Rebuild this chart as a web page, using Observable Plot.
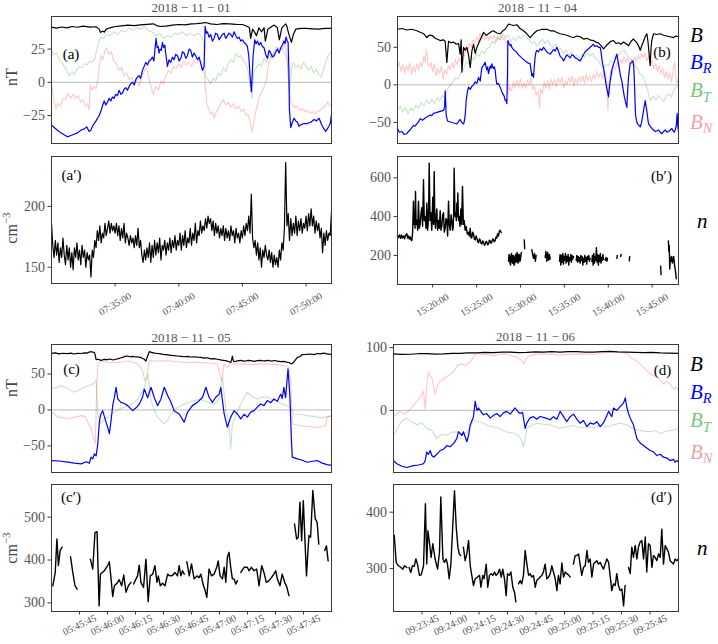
<!DOCTYPE html>
<html><head><meta charset="utf-8">
<script src="https://cdn.jsdelivr.net/npm/d3@7"></script>
<script src="https://cdn.jsdelivr.net/npm/@observablehq/plot@0.6"></script>
<style>
body{margin:0;background:#fff;}
#root{position:relative;width:718px;height:644px;overflow:hidden;background:#fff;}
.pw{position:absolute;}
.pw svg{overflow:visible;background:transparent;}
#ov{position:absolute;left:0;top:0;pointer-events:none;}
</style></head><body><div id="root"></div>
<script>
// ---------------- DATA ----------------
// Panel (a) 2018-11-01, time in minutes after 07:30:00
const aStart = "2018-11-01T07:30:00Z";
const aB = [[0,41.5],[0.4,40.8],[0.8,41.6],[1.2,41],[1.6,42],[2,41.4],[2.5,42.2],[3,41.5],[3.5,41.8],[3.75,40],[3.85,37.5],[4.0,38.5],[4.15,37.8],[4.3,40],[4.6,41],[5,42],[5.5,42.5],[6,43],[6.5,42.6],[7,43.2],[7.5,43.6],[8,44],[8.3,42.5],[8.6,42],[9,42.2],[9.5,43],[10,43.5],[10.5,43.2],[11,44],[11.4,44.2],[11.8,44.5],[12.1,45],[12.5,44],[13,43.5],[13.5,44.2],[14,44],[14.5,43.6],[15,43.5],[15.4,42],[15.55,41],[15.65,33],[15.8,40],[16,37],[16.1,35],[16.3,41],[16.5,38],[16.7,41],[16.8,31],[17,40],[17.3,42],[17.5,43],[17.75,41],[17.9,32],[18.1,41],[18.4,44],[18.5,42],[18.6,38],[18.75,33],[18.85,30],[19,36],[19.2,40],[19.6,40.6],[20,40.5],[20.5,40.2],[21,40],[21.5,40.6],[22,40.5]];
const aBR = [[0,-32],[0.21,-34],[0.47,-36],[0.73,-38],[0.99,-39.5],[1.26,-41],[1.52,-40],[1.78,-39],[2.04,-38],[2.3,-36],[2.57,-35],[2.77,-33.5],[2.96,-37],[3.09,-36],[3.22,-33],[3.35,-31],[3.5,-29],[3.61,-27],[3.75,-25],[3.87,-22],[4.0,-18],[4.14,-14],[4.27,-17],[4.4,-15],[4.53,-12],[4.66,-14],[4.79,-11],[4.92,-12],[5.05,-9],[5.18,-10],[5.31,-6],[5.45,-9],[5.58,-8],[5.71,-5],[5.84,-4],[5.97,-6],[6.1,-3],[6.23,-1],[6.36,0],[6.5,-2],[6.62,2],[6.75,4],[6.88,5],[7.0,3],[7.15,9],[7.28,12],[7.41,15],[7.54,13],[7.67,16],[7.8,17],[7.93,19],[8.05,16],[8.12,24],[8.22,33],[8.3,26],[8.38,27],[8.45,22],[8.53,25],[8.62,24],[8.72,30],[8.8,26],[8.9,28],[9.0,20],[9.11,12],[9.24,17],[9.37,15],[9.5,19],[9.63,17],[9.76,21],[9.9,20],[10.03,16],[10.16,18],[10.29,23],[10.42,22],[10.55,18],[10.68,20],[10.81,25],[10.94,24],[11.07,19],[11.2,22],[11.33,20],[11.47,17],[11.6,19],[11.73,14],[11.86,9],[11.99,12],[12.07,42],[12.16,37],[12.25,38],[12.38,34],[12.51,36],[12.64,31],[12.77,33],[12.9,37],[13.04,36],[13.17,32],[13.3,34],[13.43,36],[13.56,37],[13.69,33],[13.82,35],[13.95,37],[14.08,36],[14.21,34],[14.35,38],[14.48,35],[14.61,33],[14.74,34],[14.87,31],[15.0,32],[15.13,30],[15.26,29],[15.39,27],[15.5,20],[15.6,5],[15.71,-7],[15.78,8],[15.84,20],[15.97,32],[16.08,29],[16.18,31],[16.31,28],[16.44,30],[16.57,27],[16.7,26],[16.83,21],[16.96,18],[17.1,24],[17.23,22],[17.36,19],[17.49,20],[17.62,23],[17.75,25],[17.88,22],[18.01,26],[18.14,28],[18.27,31],[18.35,29],[18.43,34],[18.52,31],[18.59,30],[18.65,10],[18.69,-20],[18.8,-34],[18.93,-30],[19.06,-27],[19.19,-29],[19.32,-30],[19.45,-33],[19.58,-32],[19.84,-31],[20.1,-31],[20.37,-30],[20.63,-28],[20.82,-29],[21.02,-27],[21.15,-30],[21.28,-33],[21.41,-35],[21.54,-37],[21.67,-35],[21.8,-33],[21.9,-31],[22,-24]];
const aBT = [[0,24],[0.2,21],[0.4,22],[0.6,17],[0.8,15],[1.0,12],[1.2,9],[1.4,5],[1.6,8],[1.8,6],[2.0,10],[2.2,12],[2.4,11],[2.6,14],[2.8,13],[3.0,16],[3.2,15],[3.4,18],[3.55,24],[3.7,30],[3.9,34],[4.1,33],[4.3,36],[4.6,35],[4.9,38],[5.2,36],[5.5,39],[5.8,38],[6.1,41],[6.4,39],[6.7,41],[7.0,40],[7.3,42],[7.6,39],[7.9,38],[8.2,35],[8.5,37],[8.8,33],[9.1,35],[9.4,34],[9.7,37],[10.0,36],[10.3,38],[10.6,35],[10.9,37],[11.2,35],[11.5,37],[11.8,34],[11.95,30],[12.1,5],[12.3,2],[12.5,-1],[12.7,3],[12.9,1],[13.1,7],[13.3,5],[13.5,11],[13.7,8],[13.9,14],[14.1,17],[14.3,15],[14.5,22],[14.7,19],[14.9,20],[15.1,16],[15.3,14],[15.45,8],[15.6,-2],[15.75,-12],[15.9,8],[16.1,11],[16.3,14],[16.5,12],[16.7,18],[16.9,15],[17.1,21],[17.3,18],[17.5,24],[17.7,27],[17.9,23],[18.1,26],[18.3,22],[18.5,18],[18.6,5],[18.7,-8],[18.85,10],[19.0,15],[19.2,11],[19.4,13],[19.6,10],[19.8,15],[20.0,12],[20.2,9],[20.4,12],[20.6,7],[20.8,10],[21.0,6],[21.2,4],[21.35,9],[21.5,14],[21.65,18],[21.8,21],[22,23]];
const aBN = [[0,-1],[0.1,-8],[0.2,-14],[0.35,-20],[0.5,-16],[0.7,-18],[0.9,-12],[1.1,-13],[1.3,-8],[1.5,-12],[1.7,-9],[1.9,-12],[2.1,-10],[2.3,-15],[2.5,-13],[2.7,-18],[2.85,-16],[2.95,-21],[3.05,-2],[3.2,-6],[3.35,-3],[3.5,-5],[3.65,2],[3.75,12],[3.9,20],[4.05,17],[4.2,24],[4.35,26],[4.5,21],[4.7,23],[4.9,16],[5.1,14],[5.3,9],[5.5,11],[5.7,5],[5.9,7],[6.1,2],[6.3,4],[6.5,-1],[6.7,2],[6.9,-3],[7.05,3],[7.2,6],[7.4,11],[7.55,8],[7.7,1],[7.85,-4],[8.0,-9],[8.2,-3],[8.4,-6],[8.6,1],[8.8,-1],[9.0,5],[9.2,9],[9.4,7],[9.6,12],[9.8,10],[10.0,14],[10.2,11],[10.4,16],[10.6,13],[10.8,15],[11.0,12],[11.2,16],[11.4,14],[11.6,17],[11.8,13],[12.0,8],[12.1,-5],[12.2,-16],[12.35,-20],[12.5,-24],[12.65,-22],[12.8,-27],[12.95,-22],[13.1,-20],[13.3,-16],[13.5,-13],[13.7,-17],[13.9,-15],[14.1,-19],[14.3,-16],[14.5,-20],[14.7,-18],[14.9,-22],[15.1,-20],[15.3,-25],[15.45,-24],[15.6,-30],[15.75,-37],[15.9,-30],[16.0,-24],[16.15,-18],[16.3,-12],[16.45,-8],[16.6,-6],[16.75,-2],[16.9,2],[17.0,10],[17.1,16],[17.3,20],[17.5,22],[17.7,24],[17.9,26],[18.1,25],[18.3,28],[18.45,25],[18.55,14],[18.65,-2],[18.8,-15],[18.95,-17],[19.1,-19],[19.3,-18],[19.5,-21],[19.7,-20],[19.9,-22],[20.1,-21],[20.3,-23],[20.5,-22],[20.7,-24],[20.9,-22],[21.1,-21],[21.3,-19],[21.5,-18],[21.7,-15],[21.85,-17],[22,-18]];
// Panel (a') density, cm^-3, one value every 0.1 min from 07:30:00
const aNstep = 0.1;
const aN = [186,168,158,172,160,170,154,166,158,174,160,152,168,156,166,150,162,148,166,158,170,156,164,152,168,158,164,150,162,156,160,142,164,158,172,166,180,172,184,170,178,174,186,176,182,188,178,186,180,184,178,186,176,184,172,182,174,186,170,178,174,168,176,170,174,166,176,168,182,166,172,160,154,164,156,166,158,170,154,168,158,172,160,170,162,174,156,168,164,172,160,170,164,174,162,172,166,176,164,172,168,178,164,176,168,180,166,174,170,182,168,178,172,186,170,180,176,188,178,184,180,190,182,192,186,190,180,188,176,186,178,184,174,182,176,184,172,182,174,180,172,184,176,180,170,182,174,178,170,180,174,184,176,186,180,192,178,210,174,166,172,160,170,156,166,150,164,158,168,160,156,164,154,162,150,160,152,158,150,164,156,170,164,182,236,184,194,172,190,176,186,178,192,176,188,180,190,178,186,182,192,180,194,184,198,184,192,178,188,180,186,174,182,162,178,168,180,172,178,176,196];

// Panel (b) 2018-11-04, minutes after 15:16:00
const bStart = "2018-11-04T15:16:00Z";
const bB = [[0,74],[0.5,75],[1.06,73],[1.6,74],[2.2,72],[2.58,70],[3.0,68],[3.34,63],[3.6,66],[3.91,66],[4.3,62],[4.86,59],[5.2,60],[5.43,58],[5.62,30],[5.81,58],[6.1,56],[6.38,57],[6.7,54],[6.95,55],[7.14,41],[7.25,60],[7.33,17],[7.52,50],[7.7,46],[7.9,50],[8.09,40],[8.28,23],[8.47,45],[8.66,54],[8.85,42],[9.04,50],[9.42,60],[9.8,70],[10.1,66],[10.36,68],[10.7,71],[10.93,72],[11.3,69],[11.69,68],[12.0,72],[12.26,74],[12.64,81],[12.9,80],[13.21,79],[13.59,80],[13.97,75],[14.35,72],[14.73,68],[15.11,63],[15.49,68],[15.87,72],[16.2,73],[16.44,74],[17.01,74],[17.4,72],[17.77,72],[18.1,70],[18.53,68],[18.9,67],[19.29,66],[19.7,64],[20.05,63],[20.43,65],[20.8,64],[21.2,61],[21.56,62],[21.9,60],[22.32,59],[22.6,57],[22.89,56],[23.2,52],[23.46,48],[23.76,52],[24.03,55],[24.3,58],[24.6,59],[24.9,55],[25.17,56],[25.45,54],[25.74,57],[26.0,55],[26.31,52],[26.6,58],[26.88,61],[27.1,58],[27.26,56],[27.45,52],[27.64,46],[27.82,52],[28.02,58],[28.2,64],[28.4,68],[28.52,58],[28.63,44],[28.72,32],[28.78,26],[28.88,50],[28.97,60],[29.16,68],[29.5,67],[29.92,68],[30.3,66],[30.68,65],[31.05,64],[31.43,63],[31.7,65],[32,64]];
const bBR = [[0,-58],[0.2,-63],[0.49,-62],[0.75,-66],[1.06,-65],[1.25,-62],[1.44,-60],[1.62,-57],[1.82,-54],[2.0,-55],[2.2,-52],[2.4,-49],[2.58,-45],[2.85,-47],[3.15,-44],[3.45,-42],[3.72,-40],[3.9,-41],[4.1,-38],[4.4,-37],[4.67,-36],[4.95,-35],[5.24,-34],[5.36,-30],[5.43,-8],[5.5,-25],[5.54,-40],[5.69,-48],[5.95,-49],[6.19,-50],[6.5,-51],[6.76,-52],[6.95,-49],[7.14,-46],[7.32,-50],[7.52,-52],[7.62,-48],[7.71,-40],[7.82,-21],[7.95,-10],[8.09,-3],[8.28,-6],[8.47,-2],[8.66,0],[8.85,4],[9.04,2],[9.23,10],[9.42,5],[9.52,15],[9.61,23],[9.8,26],[9.98,30],[10.08,24],[10.17,20],[10.27,24],[10.36,15],[10.46,20],[10.55,25],[10.65,22],[10.74,28],[10.84,24],[10.93,22],[11.02,24],[11.12,20],[11.22,8],[11.31,1],[11.5,2],[11.69,-3],[11.85,-8],[12.0,-12],[12.15,-15],[12.26,-21],[12.36,-20],[12.45,-25],[12.52,10],[12.57,59],[12.7,55],[12.83,52],[12.92,54],[13.02,50],[13.15,48],[13.29,46],[13.45,45],[13.59,43],[13.78,40],[13.97,38],[14.15,36],[14.35,34],[14.55,32],[14.73,30],[14.9,29],[15.11,28],[15.2,20],[15.3,12],[15.4,15],[15.49,10],[15.58,25],[15.68,38],[15.78,44],[15.87,46],[16.05,44],[16.25,48],[16.45,46],[16.63,50],[16.82,47],[17.01,44],[17.2,42],[17.39,41],[17.58,44],[17.77,47],[17.96,45],[18.15,50],[18.35,44],[18.53,38],[18.72,36],[18.91,32],[19.1,36],[19.29,40],[19.48,38],[19.67,36],[19.86,40],[20.05,39],[20.24,36],[20.43,35],[20.62,33],[20.8,32],[21.0,36],[21.18,40],[21.37,44],[21.56,46],[21.75,48],[21.94,50],[22.13,52],[22.32,54],[22.5,51],[22.7,52],[22.9,50],[23.08,50],[23.18,44],[23.27,35],[23.36,28],[23.46,23],[23.6,12],[23.76,0],[23.9,-8],[24.03,-16],[24.12,-5],[24.22,5],[24.32,12],[24.41,20],[24.55,26],[24.68,30],[24.83,36],[24.98,41],[25.1,32],[25.28,20],[25.4,12],[25.55,5],[25.68,-5],[25.82,-15],[25.95,-22],[26.12,-30],[26.2,-10],[26.31,10],[26.4,20],[26.5,28],[26.65,30],[26.81,32],[26.9,25],[26.96,10],[27.03,-15],[27.11,-40],[27.22,-48],[27.34,-52],[27.5,-54],[27.64,-56],[27.8,-50],[27.94,-40],[28.08,-30],[28.21,-21],[28.3,-28],[28.4,-35],[28.5,-45],[28.59,-52],[28.78,-55],[28.97,-58],[29.16,-60],[29.35,-62],[29.55,-61],[29.73,-60],[29.92,-63],[30.11,-65],[30.3,-62],[30.49,-60],[30.68,-63],[30.87,-62],[31.05,-60],[31.24,-58],[31.38,-61],[31.51,-63],[31.62,-60],[31.74,-55],[31.8,-45],[31.85,-38],[31.92,-55],[32,-62]];
const bBT = [[0,-34],[0.3,-28],[0.6,-36],[0.9,-30],[1.2,-38],[1.5,-31],[1.8,-34],[2.1,-27],[2.4,-31],[2.7,-24],[3.0,-28],[3.3,-20],[3.6,-25],[3.9,-19],[4.2,-25],[4.5,-17],[4.8,-21],[5.1,-14],[5.4,-17],[5.7,-6],[6.0,0],[6.3,4],[6.6,10],[6.9,8],[7.2,16],[7.5,20],[7.8,30],[8.1,28],[8.4,37],[8.7,33],[9.0,42],[9.3,38],[9.6,45],[9.9,42],[10.2,48],[10.5,50],[10.8,58],[11.1,55],[11.4,63],[11.7,60],[12.0,68],[12.3,64],[12.6,66],[12.9,58],[13.2,63],[13.5,59],[13.8,65],[14.1,61],[14.4,67],[14.7,63],[15.0,60],[15.3,55],[15.6,58],[15.9,51],[16.2,57],[16.5,61],[16.8,55],[17.1,60],[17.4,53],[17.7,50],[18.0,54],[18.3,46],[18.6,49],[18.9,42],[19.2,46],[19.5,40],[19.8,44],[20.1,36],[20.4,40],[20.7,35],[21.0,41],[21.3,37],[21.6,43],[21.9,38],[22.2,42],[22.5,36],[22.8,33],[23.1,28],[23.4,22],[23.7,27],[24.0,25],[24.3,32],[24.6,29],[24.9,36],[25.2,40],[25.5,44],[25.8,47],[26.1,40],[26.4,36],[26.7,32],[27.0,27],[27.3,22],[27.6,15],[27.9,12],[28.2,4],[28.5,-8],[28.8,-21],[29.1,-15],[29.4,-20],[29.7,-14],[30.0,-18],[30.3,-22],[30.6,-15],[30.9,-12],[31.2,-16],[31.5,-6],[31.8,-2],[32,1]];
const bBN = [[0,23],[0.2,30],[0.4,18],[0.6,27],[0.8,15],[1.0,26],[1.2,19],[1.4,29],[1.6,14],[1.8,25],[2.0,17],[2.2,28],[2.4,20],[2.6,30],[2.8,24],[3.0,38],[3.15,30],[3.3,47],[3.45,28],[3.6,24],[3.8,30],[4.0,18],[4.2,28],[4.4,12],[4.6,22],[4.8,15],[5.0,25],[5.2,8],[5.4,20],[5.6,14],[5.8,26],[6.0,20],[6.2,30],[6.4,22],[6.6,34],[6.8,27],[7.0,36],[7.2,30],[7.4,44],[7.6,38],[7.8,50],[8.0,44],[8.2,56],[8.4,50],[8.6,60],[8.8,55],[9.0,64],[9.2,58],[9.4,69],[9.6,62],[9.8,67],[10.0,60],[10.2,66],[10.4,59],[10.6,65],[10.8,61],[11.0,66],[11.2,58],[11.4,64],[11.6,60],[11.8,66],[12.0,60],[12.2,63],[12.45,55],[12.55,30],[12.64,-12],[12.8,-2],[13.0,-8],[13.2,5],[13.4,-4],[13.6,6],[13.8,-3],[14.0,8],[14.2,-5],[14.4,3],[14.6,-4],[14.8,6],[15.0,0],[15.2,9],[15.4,-6],[15.6,-2],[15.8,-14],[16.0,-8],[16.17,-30],[16.3,-5],[16.5,-12],[16.7,4],[16.9,-4],[17.1,6],[17.3,-6],[17.5,8],[17.7,0],[17.9,7],[18.1,-3],[18.3,9],[18.5,2],[18.7,10],[18.9,-4],[19.1,5],[19.3,0],[19.5,10],[19.7,3],[19.9,12],[20.1,-2],[20.3,8],[20.5,2],[20.7,11],[20.9,4],[21.1,12],[21.3,2],[21.5,14],[21.7,6],[21.9,12],[22.1,4],[22.3,14],[22.5,8],[22.7,18],[22.9,10],[23.1,16],[23.3,9],[23.5,20],[23.7,14],[23.85,0],[23.96,-34],[24.1,5],[24.25,18],[24.4,12],[24.6,26],[24.8,20],[25.0,30],[25.2,24],[25.4,34],[25.6,28],[25.8,38],[26.0,30],[26.2,36],[26.4,28],[26.6,34],[26.8,30],[27.0,37],[27.2,32],[27.4,40],[27.6,34],[27.8,42],[28.0,36],[28.2,42],[28.4,32],[28.6,38],[28.8,26],[29.0,32],[29.2,22],[29.4,28],[29.6,18],[29.8,26],[30.0,15],[30.2,22],[30.4,10],[30.6,18],[30.8,8],[31.0,16],[31.2,4],[31.4,20],[31.55,30],[31.7,10],[31.85,2],[32,8]];
// Panel (b') density, minutes after 15:16:00 (null = no data)
const bN = [[0,302],[0.12,292],[0.23,306],[0.35,288],[0.46,305],[0.57,290],[0.68,300],[0.8,286],[0.91,304],[1.06,312],[1.15,290],[1.25,300],[1.35,284],[1.44,296],[1.54,282],[1.63,276],[1.72,320],[1.82,480],[1.9,360],[1.94,420],[2.0,340],[2.05,530],[2.12,360],[2.2,380],[2.3,330],[2.39,480],[2.48,340],[2.58,360],[2.68,420],[2.77,446],[2.86,350],[2.96,590],[3.05,380],[3.15,400],[3.25,340],[3.34,470],[3.42,330],[3.49,360],[3.55,450],[3.61,675],[3.7,380],[3.8,420],[3.9,330],[4.02,500],[4.1,360],[4.18,632],[4.25,380],[4.33,340],[4.4,400],[4.48,440],[4.57,330],[4.67,380],[4.76,340],[4.86,430],[4.95,330],[5.05,350],[5.14,410],[5.24,420],[5.33,320],[5.43,340],[5.52,390],[5.62,380],[5.71,300],[5.81,480],[5.9,360],[6.0,330],[6.1,410],[6.19,380],[6.27,330],[6.34,340],[6.4,430],[6.45,650],[6.55,400],[6.64,420],[6.7,380],[6.76,470],[6.82,400],[6.87,522],[6.95,380],[7.02,400],[7.12,350],[7.21,440],[7.3,360],[7.4,556],[7.5,360],[7.59,380],[7.7,330],[7.82,350],[7.95,310],[8.09,320],[8.18,300],[8.28,340],[8.38,290],[8.47,293],[8.56,320],[8.66,310],[8.75,285],[8.85,280],[8.95,300],[9.04,290],[9.14,270],[9.23,265],[9.33,285],[9.42,280],[9.52,262],[9.61,259],[9.7,275],[9.8,268],[9.9,252],[9.98,256],[10.08,272],[10.17,270],[10.27,255],[10.36,258],[10.46,278],[10.55,275],[10.65,262],[10.74,268],[10.84,285],[10.93,282],[11.02,270],[11.12,276],[11.22,295],[11.31,290],[11.4,312],[11.5,300],[11.6,325],[11.69,330],[11.81,318],
null,[12.64,170],[12.7,205],[12.76,200],[12.82,160],[12.87,150],[12.93,195],[12.98,210],[13.04,170],[13.1,160],[13.15,200],[13.21,195],[13.27,150],[13.33,155],[13.38,190],[13.44,205],[13.5,165],[13.55,170],[13.61,215],[13.67,210],[13.72,160],[13.78,165],[13.84,205],[13.9,200],[13.95,170],[14.01,180],[14.07,210],[14.12,215],
null,[14.44,280],[14.48,235],
null,[15.3,230],[15.4,200],[15.5,185],[15.6,210],[15.7,170],[15.79,200],
null,[16.82,190],[16.9,220],[17.0,170],[17.1,215],[17.2,175],[17.3,205],[17.39,180],
null,[18.45,170],[18.52,205],[18.6,150],[18.68,200],[18.75,165],[18.83,210],[18.9,155],[18.98,195],[19.05,175],[19.13,210],[19.2,160],[19.28,195],[19.35,170],[19.43,205],[19.5,150],[19.58,190],[19.65,175],[19.73,205],[19.8,165],[19.88,200],[19.95,180],[20.05,195],
null,[20.35,175],[20.42,200],[20.5,165],[20.58,195],[20.65,170],[20.73,190],[20.8,160],[20.88,200],[20.95,175],[21.03,195],[21.1,150],[21.18,185],[21.25,165],[21.33,200],[21.4,170],[21.48,190],[21.55,155],[21.63,195],[21.7,180],[21.78,200],[21.85,170],[21.94,185],
null,[22.13,170],[22.2,200],[22.28,150],[22.35,210],[22.43,160],[22.5,195],[22.58,175],[22.65,240],[22.73,165],[22.8,205],[22.88,150],[22.95,200],[23.03,170],[23.1,210],[23.18,160],[23.25,190],[23.33,175],[23.4,205],[23.46,180],
null,[23.65,175],[23.75,190],[23.85,170],[23.92,185],
null,[24.98,185],[25.03,200],
null,[25.42,195],[25.46,205],
null,[26.4,172],[26.44,195],
null,[29.97,145],[30.01,100],
null,[30.85,275],[30.9,220],[30.95,250],[31.0,130],[31.08,190],[31.15,170],[31.22,195],[31.3,160],[31.38,175],[31.45,195],[31.55,150],[31.65,120],[31.75,80]];

// Panel (c) 2018-11-05, seconds after 05:45:30
const cStart = "2018-11-05T05:45:30Z";
const cB = [[0,78.7],[2,79.3],[4,78],[6,78.8],[8.7,78.3],[10.5,79],[12,77.8],[14,78.6],[15.9,78.5],[17.5,79.4],[19,79],[20.2,80.5],[21.2,81],[22.2,80.2],[23.0,80],[23.5,75],[23.9,70],[25,70.5],[26.5,69],[28,70.2],[30.1,70],[31.5,70.8],[33,69.5],[34.2,70.5],[35.5,71],[36.8,72.2],[38.1,73],[39.4,74.5],[40.8,75],[42,74],[43.5,74.5],[44.8,73.6],[46.1,74],[47.0,73.2],[47.9,73],[48.7,71.5],[49.5,71],[50.0,69.5],[50.6,68],[51.5,75],[52.4,81],[53.6,80],[55.1,79],[56.8,78.5],[58.6,78],[59.8,77.2],[61,77],[62.5,76.5],[64.0,76],[65.7,75.5],[67.5,75],[69.3,74.6],[71.1,74],[73,74.6],[74.6,73.6],[76.4,74],[78.2,73.4],[80.0,73],[81.8,72],[83.5,72.5],[85.3,71],[87,71.4],[88.9,70.5],[90.5,69.6],[92,69],[93.2,68.5],[94.2,68],[95.1,67],[96.0,66],[96.5,70],[96.9,75],[97.3,69],[97.8,67],[99.6,68.2],[101.4,69],[103,67.8],[104,68],[105.4,69],[106.7,68.5],[108.5,67.6],[110.3,68.6],[112.1,69],[113.8,68],[115.6,69],[117,68.4],[118,68],[119.5,68.8],[121.0,68],[122.8,67.2],[124.5,67.6],[126,66.4],[127.2,66],[128.5,64],[129.2,65],[129.9,67],[130.8,70],[131.7,73],[133,74],[134.3,77],[136.5,77.2],[138.8,77.8],[140.6,77],[142.3,78.5],[144,78],[145.9,79],[147,78.3],[148,77.5],[149,77.8],[150,77]];
const cBR = [[0,-70.4],[4.3,-71],[8.7,-72.7],[12.3,-74],[15.9,-75],[18.5,-72],[20.3,-74],[21.2,-65.7],[22.1,-68],[23.0,-61],[23.9,-64],[24.8,-47],[25.7,-14.8],[26.5,-5.6],[27.4,-1],[28.3,-9],[29.2,-17],[30.1,-24],[31.0,-33],[31.9,-15],[32.8,6],[33.7,18],[34.6,31.5],[35.5,15.3],[37.2,10.6],[39.0,9],[40.8,6],[43.5,-1],[45.3,3],[47.0,8],[48.8,18],[49.7,29],[51.5,17],[53.3,31.5],[55.1,17],[56.8,6],[58.6,15],[60.4,31.5],[62.2,20],[64.0,10.6],[65.7,-1],[68.4,-5.6],[71.1,-17],[72.9,-3],[75.5,6],[78.2,10.6],[80.9,17.6],[82.7,31.5],[84.4,17.6],[86.2,10.6],[88.0,17.6],[89.8,22],[90.7,31.5],[92.5,-5.6],[94.2,-24],[96.0,-10],[97.8,-1],[99.6,-5.6],[101.4,-12.5],[103.2,-6],[104.9,-10],[106.7,-3],[108.5,-1],[110.3,4],[112.1,8.3],[113.8,6],[115.6,13],[117.4,10],[119.2,15.3],[121.0,12],[122.8,22],[123.6,16],[124.5,31.5],[125.4,17],[126.7,57],[127.7,20],[128.5,-40],[129.0,-65.7],[131.7,-68],[134.3,-70],[137.0,-72.7],[140.6,-71],[142.3,-70.4],[145.0,-74],[147.7,-76],[150,-77]];
const cBT = [[0,29],[2.5,31],[5.2,33.8],[8.7,30],[12.3,24.5],[15.0,28],[17.6,31.5],[20.3,34],[22.1,36],[23.9,40.7],[24.8,-5.6],[26.5,-19],[28.3,-12],[30.1,-10],[33.7,-3],[36.3,1],[39.0,3.7],[41.7,6],[44.4,10.6],[47.0,18],[49.7,31.5],[51.5,50],[53.3,13],[55.1,0],[56.8,-10],[60.4,-19],[62.2,-14],[64.0,-5.6],[66.7,2],[69.3,6],[72.9,10],[76.4,13],[80.0,15],[83.6,10.6],[87.1,8],[89.8,15],[91.6,45],[93.4,0],[95.1,-20],[96.0,-54],[96.9,-20],[98.7,-8],[101.4,8.3],[104.9,24.5],[107.6,18],[110.3,15],[113.0,18],[115.6,17.6],[118.3,14],[121.0,12],[123.6,8],[126.3,6],[128.1,3],[129.9,-5.6],[133.4,-6],[137.0,-7.9],[140.6,-9],[144.1,-11],[146.8,-10],[150,-8]];
const cBN = [[0,-3.2],[1.6,-6],[3.4,-10],[6.1,-11],[8.7,-12.5],[12.3,-10],[15.9,-7.9],[18.5,-10],[19.8,-19],[21.2,-26],[22.4,-38],[23.5,-47],[24.2,30],[24.8,64],[26.5,68.5],[30.1,66],[35.5,66],[40.8,68],[44.4,66],[47.0,62],[48.8,54.6],[50.0,40.7],[51.1,45],[52.4,68.5],[56.8,68],[62.2,68.5],[67.5,67],[71.1,66],[76.4,66.5],[80.0,66],[85.3,65],[88.9,64],[90.2,50],[91.1,40.7],[92.5,64],[94.2,59],[96.0,66],[97.8,64],[103.2,64],[106.7,63],[112.1,64],[115.6,64],[121.0,63],[124.5,61.6],[127.2,59],[128.1,40],[129.0,-19],[131.7,-21],[133.4,-21.8],[137.0,-23],[140.6,-24],[144.1,-24],[146.8,-22],[147.7,-10],[150,-8]];
// Panel (c') density, seconds after 05:45:30 (null = no data)
const cN = [[0.7,340],[2.0,371],[2.9,449],[3.7,387],[4.6,422],[5.7,430],null,
[10.2,408],[11.4,371],[12.6,340],[13.7,332],null,
[20.8,402],[22.1,379],[23.3,464],[24.4,466],[25.5,293],[26.2,367],[28.3,375],[30.1,387],[31.0,396],[31.9,356],[32.8,315],[33.7,340],[35.1,346],[36.3,354],[37.6,340],[38.7,365],[39.9,325],[41.2,340],[42.6,348],null,
[44.0,344],[45.3,356],[46.1,363],[47.0,388],[47.9,348],[49.3,336],[50.6,402],[51.8,303],[52.9,363],[54.2,367],[55.4,387],[56.5,348],[57.2,363],[58.3,340],[59.5,346],[60.8,340],[62.2,367],[63.4,363],[64.8,364],[66.1,371],[67.5,363],[68.4,387],[69.3,363],[70.2,375],[71.1,367],null,
[72.5,396],[73.8,363],[75.0,391],[76.4,356],[77.9,363],[79.1,359],[80.0,367],[81.4,340],[82.1,332],[83.2,313],[84.4,379],[85.7,363],[87.1,367],[88.5,383],[89.3,398],[90.3,363],[91.6,356],[92.5,383],[93.4,348],[94.2,406],[95.1,418],[96.0,383],[96.9,356],[97.8,356],[98.7,344],[99.6,352],null,
[101.4,371],[103.2,383],[104.9,383],[105.8,375],[107.1,383],[108.5,375],[109.9,379],[111.2,340],[112.6,387],[113.8,371],[115.1,348],[116.5,352],[117.8,359],[118.8,365],[120.1,375],[121.0,356],[122.4,340],[123.6,367],[124.9,348],[126.0,338],[127.2,317],null,
[130.2,484],[131.3,449],[132.2,453],[133.1,535],[134.0,445],[134.9,538],[135.8,444],[136.6,363],[137.9,457],[138.8,453],[140.0,562],[141.3,496],[142.3,488],[143.2,437],null,
[146.4,422],[147.3,433],[148.2,398]];

// Panel (d) 2018-11-06, seconds after 09:23:30
const dStart = "2018-11-06T09:23:30Z";
const dB = [[0,90],[4,89.2],[8.8,89.5],[13,90.3],[17.5,90.5],[22,89.6],[26.3,90],[31,90.8],[35.1,91],[39,91.8],[43.9,91.5],[48,92.3],[52.6,92],[57,92.8],[61.4,93],[66,92.2],[70.2,92.5],[75,93.2],[78.9,93],[83,93.6],[87.7,93],[92,93.8],[96.5,93.5],[101,92.8],[105.3,93],[110,93.6],[114,94],[118,93.2],[122.8,93],[127,92.4],[131.6,92],[136,92.6],[140.4,91.5],[145,91.2],[150,91]];
const dBR = [[0,-80],[1.8,-85],[4.4,-89],[7.0,-91],[10.5,-88],[13.2,-87],[15.8,-85],[16.7,-80],[17.5,-66.5],[18.4,-70],[19.3,-64],[20.2,-72],[21.1,-74.6],[22.8,-70],[24.6,-64],[26.3,-62],[28.1,-56],[29.8,-58],[31.6,-53],[33.3,-45],[34.2,-34],[36.0,-40],[36.8,-34],[38.6,-50],[39.5,-40],[40.4,-23],[42.1,-10],[43.0,14.6],[43.9,0],[44.7,3.8],[46.5,-4],[47.4,-7],[49.1,-5],[50.9,-12.4],[52.6,-8],[54.4,-5],[56.1,-10],[57.9,-4],[59.6,-1.6],[61.4,-6],[64.0,3.8],[65.8,-3],[66.7,-5],[67.9,-3],[69.3,-28.6],[70.2,-20],[71.9,-12],[73.7,-10],[75.4,-14],[77.2,-9.7],[79.8,-12],[82.5,-15],[84.2,-10],[86.0,-14],[87.7,-1.6],[89.5,-10],[91.2,-17.8],[93.0,-10],[94.7,-6],[96.5,-14],[98.2,-20.5],[100.0,-16],[101.8,-26],[103.5,-20],[105.3,-22],[107.0,-18],[108.8,-26],[110.5,-20],[112.3,-8],[113.2,-1.6],[114.9,-10],[115.8,3.8],[117.5,0],[119.3,6],[121.1,12],[122.0,20],[122.8,5],[123.7,-5],[124.6,-12.4],[126.3,-23],[128.1,-45],[129.8,-52],[131.6,-56],[133.3,-60],[135.1,-64],[136.8,-66],[138.6,-72],[140.4,-70],[142.1,-74.6],[143.9,-76],[145.6,-80],[147.4,-78],[148.2,-82.7],[149.1,-80],[150,-82]];
const dBT = [[0,-39.5],[1.8,-30],[3.5,-20.5],[5.3,-15],[7.0,-12.4],[9.6,-18],[12.3,-23],[14.9,-20],[17.5,-28.6],[20.2,-32],[22.8,-45],[25.4,-38],[28.1,-39.5],[30.7,-35],[33.3,-34],[36.0,-38],[38.6,-36],[41.2,-22],[42.1,-15],[44.7,-18],[47.4,-20.5],[50.0,-25],[52.6,-26],[55.3,-28],[57.9,-32],[60.5,-35],[63.2,-36],[65.8,-40],[67.5,-48],[68.4,-58],[69.3,-45],[70.2,-28.6],[72.8,-24],[75.4,-20.5],[78.9,-22],[82.5,-23],[85.1,-26],[87.7,-28.6],[91.2,-26],[94.7,-24],[98.2,-28],[101.8,-26],[105.3,-28.6],[108.8,-24],[112.3,-26],[115.8,-23],[119.3,-20.5],[122.8,-23],[125.4,-28],[128.1,-31],[131.6,-33],[135.1,-34],[137.7,-32],[140.4,-37],[143.9,-33],[147.4,-31],[150,-28.6]];
const dBN = [[0,-9.7],[1.8,-5],[3.5,-1.6],[6.1,-6],[8.8,2],[10.5,8],[12.3,14.6],[14.0,20],[15.8,30.8],[16.7,2],[17.5,40],[18.4,60.5],[19.3,55],[20.2,52.4],[21.9,25.4],[23.2,40],[24.6,47],[26.3,50],[28.1,54],[29.8,57.8],[31.6,62],[33.3,70],[35.1,74],[37.7,72],[40.4,76.8],[43.0,90.3],[47.4,89],[52.6,87.6],[57.9,90],[61.4,88],[64.9,84.9],[67.5,80],[68.4,74],[70.2,84],[71.9,88],[78.9,90],[87.7,88],[96.5,90],[105.3,89.5],[114.0,93],[121.1,92],[122.8,90],[124.6,84.9],[127.2,80],[129.8,74],[132.5,66],[135.1,57.8],[136.8,56],[138.6,52.4],[140.4,48],[142.1,41.6],[143.9,46],[145.6,43],[147.4,33.5],[148.8,38],[150,30.8]];
// Panel (d') density, seconds after 09:23:30 (null = no data)
const dN = [[0.4,359],[1.4,311],[2.6,305],[3.9,302],[4.9,299],[5.8,305],[7.0,302],null,
[8.2,302],[9.1,293],[10.0,305],[10.9,304],[11.8,317],[12.6,308],[13.7,288],[14.6,289],[15.8,305],[16.8,415],[17.5,308],[18.1,367],[18.9,347],[19.8,320],[20.7,344],[21.9,317],[23.2,299],[24.2,329],[24.9,427],[26.0,317],[26.8,311],[27.7,317],[28.4,308],[29.3,282],[30.2,308],[31.2,376],[32.1,438],[33.0,374],[33.9,338],[34.6,326],[35.4,323],null,
[36.8,338],[37.7,314],[38.6,326],[39.5,350],[40.4,305],[41.2,288],[42.1,270],[43.0,282],[44.2,285],[45.3,288],[46.0,267],[47.0,288],[47.7,282],[48.8,308],[49.6,267],[50.5,288],[51.4,291],[52.3,288],[53.2,294],[54.0,288],[54.9,291],[55.8,299],[56.7,285],[57.5,299],[58.4,282],[59.3,252],[60.0,291],[60.9,288],[61.8,294],[62.8,267],[63.7,258],[64.4,241],null,
[65.8,273],[66.7,279],[67.5,273],[68.4,288],[69.3,332],[70.2,308],[71.1,288],[71.9,291],[72.8,285],[73.7,288],[74.6,267],[75.4,279],[76.3,282],[77.2,285],[78.1,288],[78.9,294],[79.8,308],[80.7,282],[81.6,285],[82.5,291],[83.3,305],[84.2,294],[85.1,282],[86.0,261],[86.8,288],[87.7,273],[88.6,310],[89.5,285],[90.4,294],[91.2,291],[92.1,289],[93.0,285],null,
[94.7,308],[95.6,323],[96.5,323],[97.4,326],[98.2,308],[99.1,288],[100.0,302],[100.9,305],[101.8,332],[102.6,311],[103.5,317],[104.4,285],[105.3,308],[106.1,311],[107.0,314],[107.9,308],[108.8,311],[109.6,305],[110.5,299],[111.4,308],[112.3,317],[113.2,311],[114.0,288],[114.9,261],[115.8,273],[116.7,270],[117.5,291],[118.4,270],[119.3,261],[120.2,264],[121.1,234],[121.9,270],null,
[123.7,302],[124.6,291],[125.4,338],[126.3,320],[127.2,341],[128.1,317],[128.9,338],[129.8,347],[130.7,350],[131.6,317],[132.5,356],[133.3,294],[134.2,344],[135.1,341],[136.0,302],[136.8,323],[137.7,320],[138.6,314],[139.5,326],[140.4,320],[141.2,370],[142.1,308],[143.0,341],[143.9,335],[144.7,329],[145.6,314],[146.5,311],[147.4,308],[148.2,317],[149.1,314],[150.0,317]];

// Tick labels
const aTicks = ["07:35:00","07:40:00","07:45:00","07:50:00"];
const bTicks = ["15:20:00","15:25:00","15:30:00","15:35:00","15:40:00","15:45:00"];
const cTicks = ["05:45:45","05:46:00","05:46:15","05:46:30","05:46:45","05:47:00","05:47:15","05:47:30","05:47:45"];
const dTicks = ["09:23:45","09:24:00","09:24:15","09:24:30","09:24:45","09:25:00","09:25:15","09:25:30","09:25:45"];
const aYTicks = [-25, 0, 25], bYTicks = [-50, 0, 50], cYTicks = [-50, 0, 50], dYTicks = [0, 100];
const aNYTicks = [150, 200], bNYTicks = [200, 400, 600], cNYTicks = [300, 400, 500], dNYTicks = [300, 400];
const titles = ["2018 \u2212 11 \u2212 01", "2018 \u2212 11 \u2212 04", "2018 \u2212 11 \u2212 05", "2018 \u2212 11 \u2212 06"];

// ---------------- HELPERS ----------------
const FONT = '"Liberation Serif","DejaVu Serif",serif';
const MIN = 60000, SEC = 1000;
const fmtT = d3.utcFormat("%H:%M:%S");
const fmtMinus = d => d < 0 ? "\u2212" + Math.abs(d) : String(d);
function rows(start, unit, pairs) {
  const t0 = Date.parse(start);
  return pairs.map(p => p === null ? {t: null, v: null} : {t: new Date(t0 + p[0] * unit), v: p[1]});
}
function uniformRows(start, unit, step, vals) {
  const t0 = Date.parse(start);
  return vals.map((v, i) => ({t: new Date(t0 + i * step * unit), v}));
}
function tickDates(start, list) {
  const day = start.slice(0, 10);
  return list.map(s => new Date(day + "T" + s + "Z"));
}
function span(start, unit, len) { const t0 = Date.parse(start); return [new Date(t0), new Date(t0 + len * unit)]; }

const root = document.getElementById("root");
function panel(cfg) {
  const marks = [];
  if (cfg.zero) marks.push(Plot.ruleY([0], {stroke: "#b3b3b3", strokeWidth: 0.9}));
  for (const L of cfg.lines) marks.push(Plot.line(L.data, {x: "t", y: "v", stroke: L.color, strokeOpacity: L.op ?? 1, strokeWidth: L.w ?? 1.1, strokeLinejoin: "round"}));
  marks.push(Plot.frame({stroke: "#3a3a3a", strokeWidth: 1}));
  marks.push(Plot.axisY(cfg.yTicks, {tickSize: 3.5, tickPadding: 3, tickFormat: fmtMinus, label: null, stroke: "#3a3a3a", fill: "#555", fontSize: 14, fontVariant: "normal"}));
  if (cfg.xTicks) {
    marks.push(Plot.axisX(cfg.xTicks, {tickSize: 3.5, tickFormat: () => "", label: null, stroke: "#3a3a3a"}));
    marks.push(Plot.text(cfg.xTicks, {x: d => d, frameAnchor: "bottom", dy: cfg.labDy, rotate: -cfg.rot, text: d => fmtT(d), textAnchor: "middle", lineAnchor: "middle", fontSize: 10, fill: "#555"}));
  }
  const svg = Plot.plot({
    width: cfg.w, height: cfg.h, margin: 0,
    style: {overflow: "visible", fontFamily: FONT, background: "transparent", color: "#555"},
    x: {type: "utc", domain: cfg.xDomain, axis: cfg.xTicks ? undefined : null},
    y: {domain: cfg.yDomain},
    marks
  });
  const wrap = document.createElement("div");
  wrap.className = "pw";
  wrap.style.left = cfg.left + "px"; wrap.style.top = cfg.top + "px";
  wrap.style.width = cfg.w + "px"; wrap.style.height = cfg.h + "px";
  wrap.appendChild(svg);
  root.appendChild(wrap);
}

const cB_ = "#000", cR = "#0000ff", cG = "#008000", cN_ = "#ff0000";
function magLines(B, BR, BT, BN, st, unit) {
  return [
    {data: rows(st, unit, BT), color: cG, op: 0.22, w: 1.1},
    {data: rows(st, unit, BN), color: cN_, op: 0.22, w: 1.1},
    {data: rows(st, unit, BR), color: cR, w: 1.2},
    {data: rows(st, unit, B), color: cB_, w: 1.2}
  ];
}

// ---------------- PANELS ----------------
panel({left: 51, top: 16, w: 280, h: 127, xDomain: span(aStart, MIN, 22), yDomain: [-46, 49.5], yTicks: aYTicks, zero: true, lines: magLines(aB, aBR, aBT, aBN, aStart, MIN)});
panel({left: 51, top: 156, w: 280, h: 127, xDomain: span(aStart, MIN, 22), yDomain: [136.6, 241], yTicks: aNYTicks, xTicks: tickDates(aStart, aTicks), labDy: 20.5, rot: 30, lines: [{data: uniformRows(aStart, MIN, aNstep, aN), color: "#000", w: 1.2}]});
panel({left: 397, top: 16, w: 281, h: 127, xDomain: span(bStart, MIN, 32), yDomain: [-78, 91], yTicks: bYTicks, zero: true, lines: magLines(bB, bBR, bBT, bBN, bStart, MIN)});
panel({left: 397, top: 156, w: 281, h: 128, xDomain: span(bStart, MIN, 32), yDomain: [50, 710], yTicks: bNYTicks, xTicks: tickDates(bStart, bTicks), labDy: 20.5, rot: 30, lines: [{data: rows(bStart, MIN, bN), color: "#000", w: 1.4}]});
panel({left: 51, top: 344, w: 280, h: 128, xDomain: span(cStart, SEC, 150), yDomain: [-87, 91], yTicks: cYTicks, zero: true, lines: magLines(cB, cBR, cBT, cBN, cStart, SEC)});
panel({left: 51, top: 484, w: 280, h: 127, xDomain: span(cStart, SEC, 150), yDomain: [280, 576], yTicks: cNYTicks, xTicks: tickDates(cStart, cTicks), labDy: 13.5, rot: 25, lines: [{data: rows(cStart, SEC, cN), color: "#000", w: 1.4}]});
panel({left: 393, top: 344, w: 285, h: 128, xDomain: span(dStart, SEC, 150), yDomain: [-99, 105], yTicks: dYTicks, zero: true, lines: magLines(dB, dBR, dBT, dBN, dStart, SEC)});
panel({left: 393, top: 484, w: 285, h: 127, xDomain: span(dStart, SEC, 150), yDomain: [224, 449], yTicks: dNYTicks, xTicks: tickDates(dStart, dTicks), labDy: 13.5, rot: 25, lines: [{data: rows(dStart, SEC, dN), color: "#000", w: 1.4}]});

// ---------------- ANNOTATIONS ----------------
const ov = d3.select(root).append("svg").attr("id", "ov").attr("width", 718).attr("height", 644)
  .style("font-family", FONT);
function txt(x, y, s, o = {}) {
  const t = ov.append("text").attr("x", x).attr("y", y).attr("text-anchor", o.anchor || "middle")
    .attr("font-size", o.size || 15).attr("fill", o.fill || "#000");
  if (o.italic) t.attr("font-style", "italic");
  if (o.rot) t.attr("transform", `rotate(${o.rot},${x},${y})`);
  t.text(s);
  return t;
}
// titles
txt(191, 12, titles[0], {size: 13, fill: "#555"});
txt(537.5, 12, titles[1], {size: 13, fill: "#555"});
txt(191, 341.5, titles[2], {size: 13, fill: "#555"});
txt(535.5, 341, titles[3], {size: 13, fill: "#555"});
// panel letters
[["(a)",71,58.5],["(b)",662,57],["(a\u2032)",71.5,180],["(b\u2032)",661.5,181],["(c)",71.5,374],["(d)",662.5,374.5],["(c\u2032)",71,502],["(d\u2032)",661.5,502]]
  .forEach(([s,x,y]) => txt(x, y, s, {size: 15}));
// y labels
txt(17, 77, "nT", {size: 16, rot: -90, fill: "#444"});
txt(17, 388, "nT", {size: 16, rot: -90, fill: "#444"});
function cm(x, y) {
  const t = ov.append("text").attr("x", x).attr("y", y).attr("text-anchor", "middle").attr("font-size", 16)
    .attr("fill", "#444").attr("transform", `rotate(-90,${x},${y})`);
  t.append("tspan").text("cm");
  t.append("tspan").attr("font-size", 11).attr("dy", -7).text("\u22123");
}
cm(16.5, 228);
cm(16.5, 548);
// legends
function leg(x, y, main, sub, fill) {
  const t = ov.append("text").attr("x", x).attr("y", y).attr("font-size", 21).attr("font-style", "italic").attr("fill", fill);
  t.append("tspan").text(main);
  if (sub) t.append("tspan").attr("font-size", 14.5).attr("dy", 4.5).text(sub);
}
function legendGroup(ys) {
  leg(690, ys[0], "B", null, "#000");
  leg(690, ys[1], "B", "R", "#0000ff");
  leg(690, ys[2], "B", "T", "#7cc47c");
  leg(690, ys[3], "B", "N", "#eda3a3");
}
legendGroup([42, 68.5, 97, 128.5]);
legendGroup([371, 398.5, 427, 458.5]);
leg(697, 227.5, "n", null, "#000");
leg(697, 554.5, "n", null, "#000");
</script>
</body></html>
